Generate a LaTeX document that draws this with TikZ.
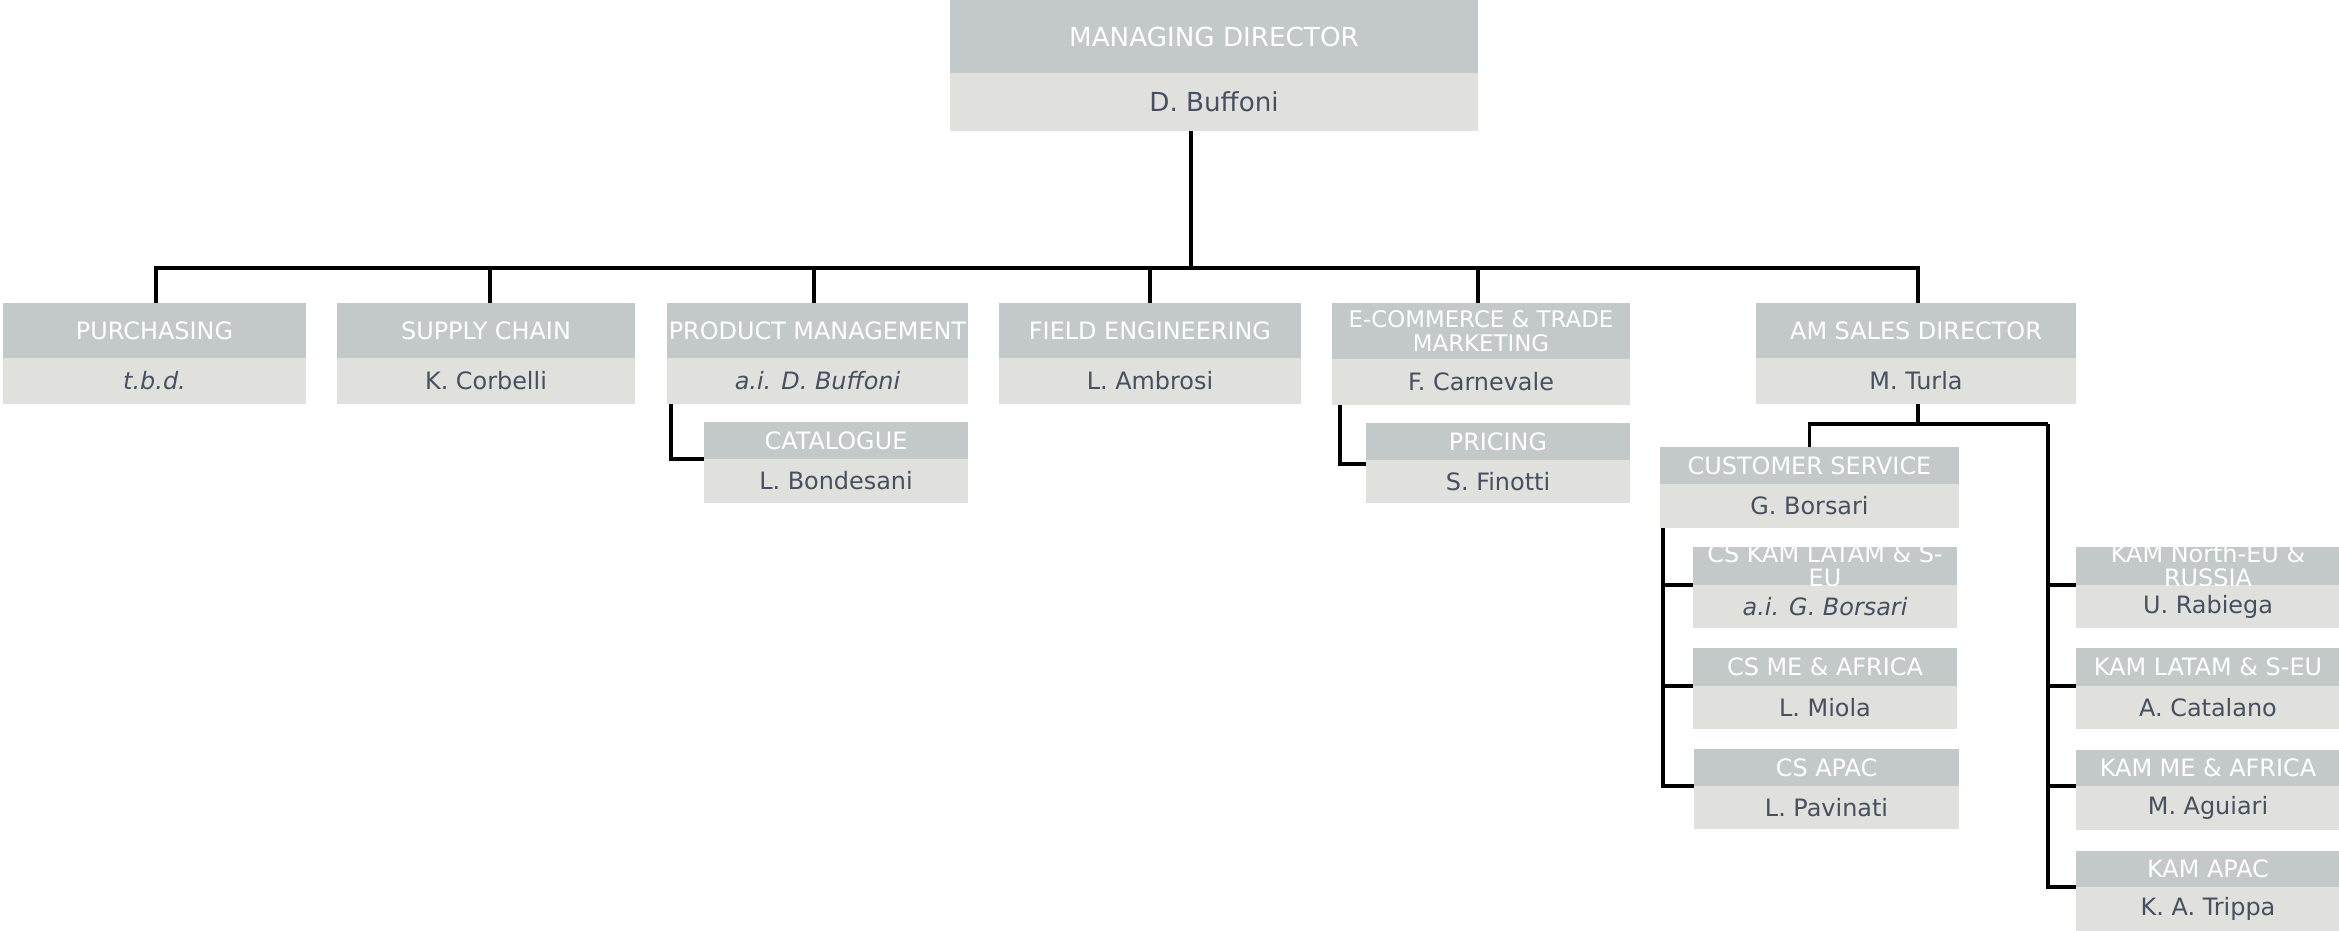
\documentclass[tikz,border=0pt]{standalone}
\usepackage{fontspec}
\usetikzlibrary{calc}
\setmainfont{DejaVu Sans}
\definecolor{hdrfill}{RGB}{195,200,200}
\definecolor{nmfill}{RGB}{224,224,220}
\definecolor{nmtext}{RGB}{70,80,96}
\definecolor{navyline}{RGB}{31,56,100}
\tikzset{
  hdrbox/.style={fill=hdrfill, draw=none, inner sep=0pt, outer sep=0pt, anchor=north west},
  nmbox/.style={fill=nmfill, draw=none, inner sep=0pt, outer sep=0pt, anchor=north west, text=nmtext, font=\fontsize{6.8}{6.8}\selectfont},
  hdrtext/.style={text=white, inner sep=0pt, align=center, font=\fontsize{6.8}{6.8}\selectfont},
  link/.style={draw=black, line width=0.9pt},
}
% #1 opt text style, #2 name, #3 x, #4 y, #5 width, #6 header h, #7 name h, #8 title, #9 person
\newcommand{\orgunit}[9][]{%
  \node[hdrbox, minimum width={#5*0.01cm}, minimum height={#6*0.01cm}] (#2h) at (#3,#4) {};
  \node[nmbox, minimum width={#5*0.01cm}, minimum height={#7*0.01cm}, #1] (#2) at (#2h.south west) {#9};
  \begin{scope}
    \clip (#2h.south west) rectangle (#2h.north east);
    \node[hdrtext, #1] (#2t) at (#2h.center) {#8};
  \end{scope}
}
\begin{document}
\begin{tikzpicture}[x=0.01cm, y=-0.01cm]
\useasboundingbox (0,0) rectangle (2339,930);
\clip (0,0) rectangle (2339,930);

% boxes
\orgunit[font=\fontsize{7.45}{7.45}\selectfont]{md}{950}{0}{528}{73}{58}{MANAGING DIRECTOR}{D. Buffoni}
\orgunit{pur}{3}{303}{303}{55}{46}{PURCHASING}{\textit{t.b.d.}}
\orgunit{sup}{337}{303}{298}{55}{46}{SUPPLY CHAIN}{K. Corbelli}
\orgunit{pm}{667}{303}{301}{55}{46}{PRODUCT MANAGEMENT}{\textit{a.i. D. Buffoni}}
\orgunit{fe}{999}{303}{302}{55}{46}{FIELD ENGINEERING}{L. Ambrosi}
\orgunit{ec}{1332}{303}{298}{56}{46}{{\fontsize{6.5}{6.8}\selectfont E-COMMERCE \& TRADE}\\{\fontsize{6.5}{6.8}\selectfont MARKETING}}{F. Carnevale}
\orgunit{am}{1756}{303}{320}{55}{46}{AM SALES DIRECTOR}{M. Turla}
\orgunit{cat}{704}{422}{264}{37}{44}{CATALOGUE}{L. Bondesani}
\orgunit{prc}{1366}{423}{264}{37}{43}{PRICING}{S. Finotti}
\orgunit{cs}{1660}{447}{299}{37}{44}{CUSTOMER SERVICE}{G. Borsari}
\orgunit{csa}{1693}{547}{264}{38}{43}{CS KAM LATAM \& S-\\EU}{\textit{a.i. G. Borsari}}
\orgunit{csb}{1693}{648}{264}{38}{43}{CS ME \& AFRICA}{L. Miola}
\orgunit{csc}{1694}{749}{265}{37}{43}{CS APAC}{L. Pavinati}
\orgunit{ka}{2076}{547}{264}{38}{43}{KAM North-EU \&\\RUSSIA}{U. Rabiega}
\orgunit{kb}{2076}{648}{264}{38}{43}{KAM LATAM \& S-EU}{A. Catalano}
\orgunit{kc}{2076}{750}{264}{36}{44}{KAM ME \& AFRICA}{M. Aguiari}
\orgunit{kd}{2076}{851}{264}{36}{44}{KAM APAC}{K. A. Trippa}

% connectors from managing director
\coordinate (bus) at (1191,268);
\draw[link] (md.south -| bus) -- (bus);
\draw[link] (bus) -| ($(purh.north)+(1.5,0)$);
\draw[link] (bus) -| ($(suph.north)+(4,0)$);
\draw[link] (bus) -| ($(pmh.north)+(-3.5,0)$);
\draw[link] (bus) -| (feh.north);
\draw[link] (bus) -| ($(ech.north)+(-3,0)$);
\draw[link] (bus) -| ($(amh.north)+(2,0)$);
\draw[link, navyline] ($(purh.north)+(1.5,0)$ |- bus) -- ($(purh.north)+(1.5,0)$);
\draw[link, navyline] ($(amh.north)+(2,0)$ |- bus) -- ($(amh.north)+(2,0)$);

% sub units
\draw[link] (pm.south west) ++(4,0) |- (cat.north west);
\draw[link] (ec.south west) ++(8,0) |- ([yshift=-0.04cm]prc.north west);

\coordinate (kamtrunk) at (2048,424);
\draw[link] ($(am.south)+(2,0)$) |- (kamtrunk);
\draw[link] (kamtrunk) -| (csh.north);
\draw[link] (kamtrunk) |- (kd.north west);
\draw[link] (kamtrunk) |- (kc.north west);
\draw[link] (kamtrunk) |- (kb.north west);
\draw[link] (kamtrunk) |- (ka.north west);

\draw[link] (cs.south west) ++(3,0) |- (csc.north west);
\draw[link] (cs.south west) ++(3,0) |- (csb.north west);
\draw[link] (cs.south west) ++(3,0) |- (csa.north west);
\end{tikzpicture}
\end{document}
